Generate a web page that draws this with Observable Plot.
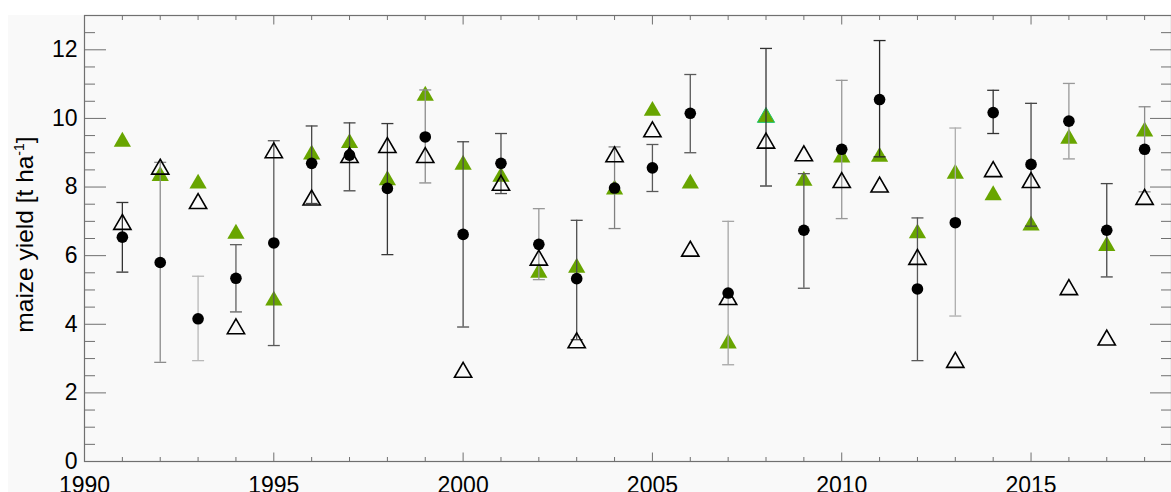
<!DOCTYPE html>
<html>
<head>
<meta charset="utf-8">
<script src="https://cdn.jsdelivr.net/npm/d3@7"></script>
<script src="https://cdn.jsdelivr.net/npm/@observablehq/plot@0.6"></script>
<style>
  html, body { margin: 0; padding: 0; background: #fff; }
  #wrap { position: relative; width: 1171px; height: 492px; overflow: hidden; background: #fff; }
  #bg { position: absolute; left: 8px; top: 15px; right: 0; bottom: 0; background: #f9f9f9; }
  #chart { position: absolute; left: 0; top: 0; }
  #chart svg { display: block; }
</style>
</head>
<body>
<div id="wrap"><div id="bg"></div><div id="chart"></div></div>
<script>
// ---- data ----
const years = [1991,1992,1993,1994,1995,1996,1997,1998,1999,2000,2001,2002,2003,2004,
               2005,2006,2007,2008,2009,2010,2011,2012,2013,2014,2015,2016,2017,2018];
// observed yield (filled circles); 2008 not shown
const observed = [6.54,5.80,4.16,5.34,6.37,8.69,8.93,7.96,9.46,6.62,8.69,6.33,5.33,7.97,
                  8.56,10.15,4.91,null,6.74,9.10,10.55,5.03,6.96,10.17,8.66,9.92,6.74,9.10];
// error bar bounds
const errLow  = [5.52,2.89,2.94,4.36,3.38,7.52,7.89,6.03,8.12,3.92,7.81,5.30,3.55,6.79,
                 7.87,9.00,2.82,8.03,5.05,7.08,8.88,2.94,4.24,9.56,6.86,8.82,5.38,7.86];
const errHigh = [7.55,8.72,5.40,6.32,9.35,9.78,9.87,9.85,10.83,9.32,9.56,7.37,7.03,9.17,
                 9.24,11.28,7.00,12.04,8.39,11.11,12.27,7.10,9.72,10.82,10.44,11.02,8.10,10.34];
// lightness of each error bar (0 = black, 1 = white)
const errShade = [0.2,0.55,0.72,0.38,0.35,0.28,0.28,0.22,0.55,0.3,0.3,0.6,0.3,0.5,
                  0.35,0.35,0.65,0.2,0.35,0.6,0.15,0.35,0.68,0.2,0.28,0.6,0.28,0.55];
// simulated yield, green filled triangles
const simGreen = [9.32,8.32,8.10,6.64,4.69,8.95,9.28,8.20,10.66,8.65,8.30,5.50,5.65,7.93,
                  10.22,8.10,3.44,10.03,8.18,8.86,8.88,6.65,8.39,7.76,6.88,9.41,6.28,9.62];
// simulated yield, open triangles
const simOpen = [6.91,8.52,7.52,3.87,9.00,7.62,8.86,9.15,8.86,2.60,8.05,5.87,3.46,8.88,
                 9.61,6.13,4.72,9.28,8.91,8.13,8.00,5.89,2.89,8.45,8.13,5.01,3.54,7.64];
const outlinedYears = [2008];

const yLabels = [0,2,4,6,8,10,12];
const yMajor = [2,4,6,8,10,12];
const yMinor = d3.range(0.5, 13, 0.5).filter(v => v % 2 !== 0);
const xLabels = [1990,1995,2000,2005,2010,2015];
const xMinor = d3.range(1991, 2019).filter(v => v % 5 !== 0);

const rows = years.map((year, i) => ({
  year, obs: observed[i], lo: errLow[i], hi: errHigh[i], shade: errShade[i],
  green: simGreen[i], open: simOpen[i]
}));

const capSymbol = {
  draw(context, size) {
    const w = Math.sqrt(size / Math.PI);
    context.moveTo(-w, 0);
    context.lineTo(w, 0);
  }
};

const axisColor = "#707070";
const font = "Liberation Sans, Arial, Helvetica, sans-serif";

const chart = Plot.plot({
  width: 1171,
  height: 492,
  marginLeft: 84,
  marginRight: 0,
  marginTop: 15,
  marginBottom: 31,
  style: { background: "transparent", fontFamily: font, fontSize: "23px", overflow: "hidden" },
  x: { domain: [1990, 2018.71] },
  y: { domain: [0, 13] },
  color: { type: "linear", domain: [0, 1], range: ["#000000", "#ffffff"] },
  marks: [
    Plot.frame({ stroke: axisColor, strokeWidth: 1.2 }),
    // y ticks left (inward)
    Plot.axisY({ anchor: "left", ticks: yMajor, tickSize: -22, tickFormat: () => "", stroke: axisColor, label: null }),
    Plot.axisY({ anchor: "left", ticks: yMinor, tickSize: -11, tickFormat: () => "", stroke: axisColor, label: null }),
    // y ticks right (inward)
    Plot.axisY({ anchor: "right", ticks: yMajor, tickSize: -22, tickFormat: () => "", stroke: axisColor, label: null }),
    Plot.axisY({ anchor: "right", ticks: yMinor, tickSize: -11, tickFormat: () => "", stroke: axisColor, label: null }),
    // x ticks bottom & top (inward)
    Plot.axisX({ anchor: "bottom", ticks: xLabels, tickSize: -8.5, tickFormat: () => "", stroke: axisColor, label: null }),
    Plot.axisX({ anchor: "bottom", ticks: xMinor, tickSize: -4, tickFormat: () => "", stroke: axisColor, label: null }),
    Plot.axisX({ anchor: "top", ticks: xLabels, tickSize: -8.5, tickFormat: () => "", stroke: axisColor, label: null }),
    Plot.axisX({ anchor: "top", ticks: xMinor, tickSize: -4, tickFormat: () => "", stroke: axisColor, label: null }),
    // tick labels
    Plot.axisY({ anchor: "left", ticks: yLabels, tickSize: 0, tickPadding: 7, tickFormat: d => String(d), fill: "black", fontSize: 23, label: null }),
    Plot.axisX({ anchor: "bottom", ticks: xLabels, tickSize: 0, tickPadding: 15, tickFormat: d => String(d), fill: "black", fontSize: 23, label: null }),
    // y label
    Plot.text(["maize yield [t ha-1]"], { frameAnchor: "left", textAnchor: "middle", dx: -59, dy: -4, rotate: -90, fontSize: 24.5, fill: "black", className: "ylabel" }),
    // green triangles
    Plot.dot(rows, { x: "year", y: "green", symbol: "triangle", r: 6.4, fill: "#68a500", stroke: "none" }),
    Plot.dot(rows.filter(d => outlinedYears.includes(d.year)), { x: "year", y: "green", symbol: "triangle", r: 6.4, fill: "none", stroke: "#19c46a", strokeWidth: 1 }),
    // error bars
    Plot.ruleX(rows, { x: "year", y1: "lo", y2: "hi", stroke: "shade", strokeWidth: 1.3 }),
    Plot.dot(rows, { x: "year", y: "lo", symbol: capSymbol, r: 6, fill: "none", stroke: "shade", strokeWidth: 1.3 }),
    Plot.dot(rows, { x: "year", y: "hi", symbol: capSymbol, r: 6, fill: "none", stroke: "shade", strokeWidth: 1.3 }),
    // observed circles
    Plot.dot(rows.filter(d => d.obs != null), { x: "year", y: "obs", r: 5.8, fill: "black", stroke: "none" }),
    // open triangles
    Plot.dot(rows, { x: "year", y: "open", symbol: "triangle", r: 6.4, fill: "none", stroke: "black", strokeWidth: 1.6 })
  ]
});

document.getElementById("chart").appendChild(chart);

// superscript in y label
const lbl = chart.querySelector("g.ylabel text");
if (lbl) {
  lbl.textContent = "";
  const ns = "http://www.w3.org/2000/svg";
  const t1 = document.createElementNS(ns, "tspan"); t1.textContent = "maize yield [t ha";
  const t2 = document.createElementNS(ns, "tspan"); t2.textContent = "-1"; t2.setAttribute("dy", "-9"); t2.setAttribute("font-size", "14");
  const t3 = document.createElementNS(ns, "tspan"); t3.textContent = "]"; t3.setAttribute("dy", "9");
  lbl.append(t1, t2, t3);
}
</script>
</body>
</html>
